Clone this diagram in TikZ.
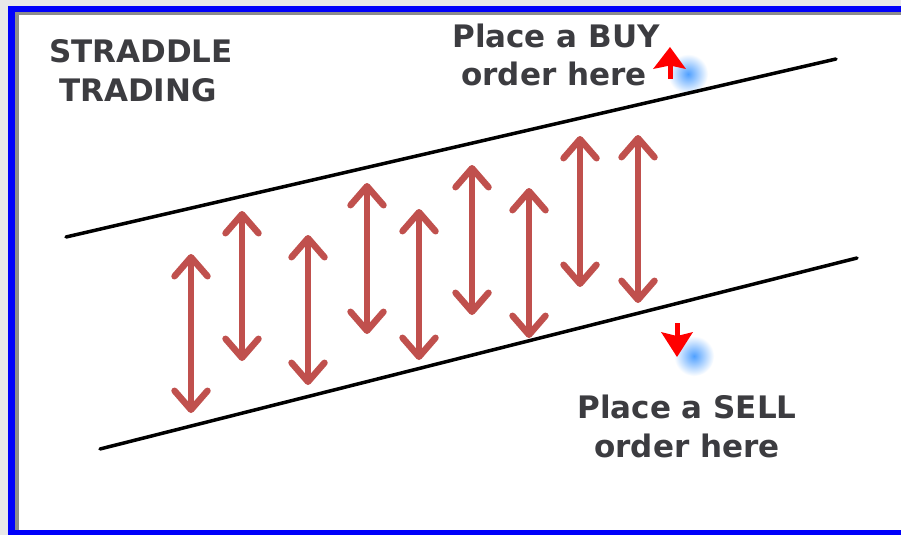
\documentclass[tikz,border=0pt]{standalone}
\usepackage{fontspec}
\setmainfont{DejaVu Sans}
\usetikzlibrary{arrows.meta}
\definecolor{bggrey}{RGB}{232,232,232}
\definecolor{frameblue}{RGB}{0,0,250}
\definecolor{shadowgrey}{RGB}{140,140,140}
\definecolor{arrowred}{RGB}{192,80,77}
\definecolor{txtgrey}{RGB}{60,60,64}
\definecolor{dotblue}{RGB}{80,160,255}
\tikzset{
  lbl/.style={font=\fontsize{31}{36}\selectfont\bfseries, text=txtgrey, inner sep=0pt, anchor=base},
  swing/.style={draw=arrowred, line width=6pt,
    {Straight Barb[length=19pt,width=33pt,line width=6.5pt,line cap=round,line join=round]}-{Straight Barb[length=19pt,width=33pt,line width=6.5pt,line cap=round,line join=round]}},
  channel/.style={draw=black, line width=3.5pt, line cap=round},
  orderstem/.style={draw=red, line width=5pt},
  orderhead/.style={fill=red},
  glow/.style={inner color=dotblue, outer color=white}
}
\begin{document}
\begin{tikzpicture}[x=1pt,y=-1pt]
\useasboundingbox (0,0) rectangle (901,535);
% frame
\fill[bggrey] (0,0) rectangle (901,535);
\fill[frameblue] (8,6) rectangle (901,535);
\fill[shadowgrey] (15,12) rectangle (901,530);
\fill[white] (19,15) rectangle (901,530);
% glow dots
\shade[glow] (688,74) circle (20);
\shade[glow] (694,356) circle (20);
% channel lines
\coordinate (t1) at (66,237);
\coordinate (t2) at (836,59);
\coordinate (b1) at (100,449);
\coordinate (b2) at (857,258);
\draw[channel] (t1) -- (t2);
\draw[channel] (b1) -- (b2);
% swing arrows
\foreach \i/\x/\t/\b in {1/191/254/413, 2/242/211/361, 3/308/235/385, 4/367/183/334, 5/419/209/360, 6/472/165/315, 7/529/188/338, 8/580/136/287, 9/638/135/303}{
  \coordinate (s\i t) at (\x,\t);
  \coordinate (s\i b) at (\x,\b);
  \draw[swing] (s\i t) -- (s\i b);
}
% order arrows
\coordinate (buy0) at (670,79);
\coordinate (buy1) at (670,64);
\draw[orderstem] (buy0) -- (buy1);
\fill[orderhead] (670,47) -- (653,69) -- (670,65.5) -- (686,69) -- cycle;
\coordinate (sell0) at (677,323);
\coordinate (sell1) at (677,338);
\draw[orderstem] (sell0) -- (sell1);
\fill[orderhead] (661,332) -- (677,336) -- (693,332) -- (677,357) -- cycle;
% labels
\node[lbl] (title1) at (141,63) {STRADDLE};
\node[lbl] (title2) at (138,101) {TRADING};
\node[lbl] (buy1l) at (556,48) {Place a BUY};
\node[lbl] (buy2l) at (554,85) {order here};
\node[lbl] (sell1l) at (687,418) {Place a SELL};
\node[lbl] (sell2l) at (687,457) {order here};
\end{tikzpicture}
\end{document}
